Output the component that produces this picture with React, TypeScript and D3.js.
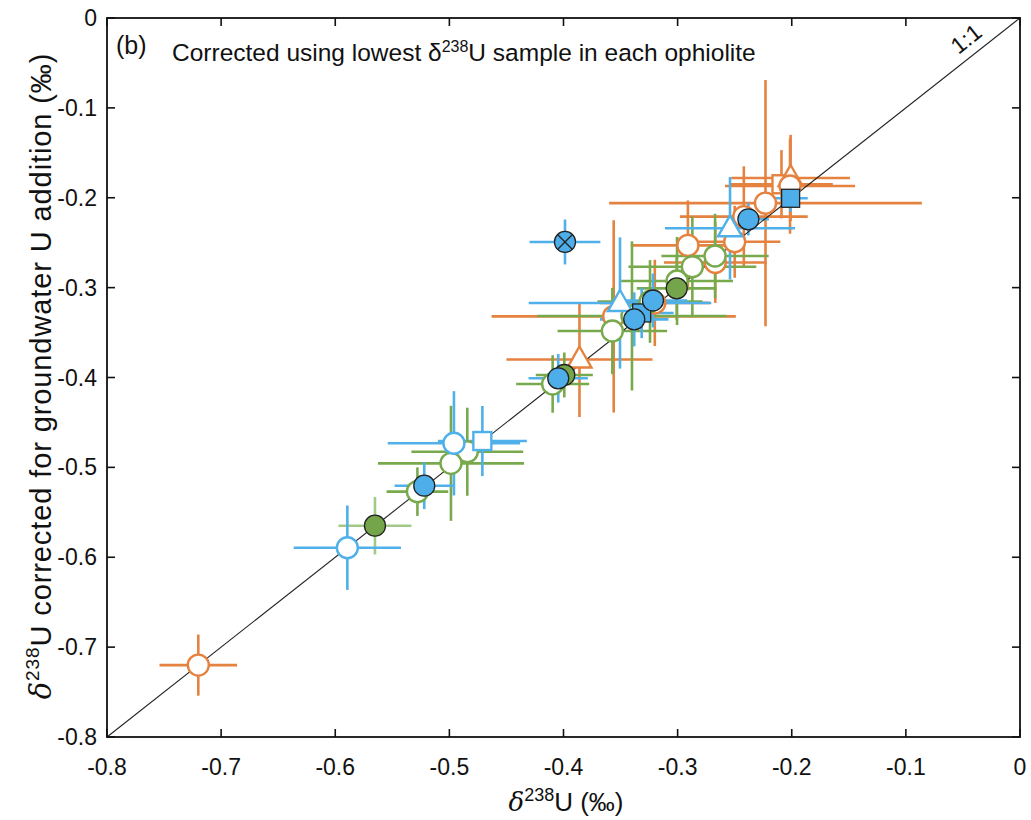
import React from "react";
import * as d3 from "d3";

// [x, y, xerr, yerr, shape]  shape: c=circle, t=triangle, s=square
const orangeOpen: [number, number, number, number, string][] = [
  [-0.356, -0.332, 0.107, 0.107, "c"],
  [-0.32, -0.317, 0.048, 0.048, "c"],
  [-0.267, -0.272, 0.045, 0.045, "c"],
  [-0.242, -0.221, 0.056, 0.056, "c"],
  [-0.291, -0.253, 0.05, 0.05, "c"],
  [-0.25, -0.249, 0.04, 0.04, "c"],
  [-0.223, -0.206, 0.137, 0.137, "c"],
  [-0.209, -0.185, 0.045, 0.038, "s"],
  [-0.201, -0.178, 0.052, 0.048, "t"],
  [-0.2015, -0.187, 0.057, 0.053, "c"],
  [-0.386, -0.38, 0.064, 0.064, "t"],
  [-0.72, -0.72, 0.034, 0.034, "c"],
];

const greenOpen: [number, number, number, number, string][] = [
  [-0.34, -0.3315, 0.083, 0.083, "c"],
  [-0.3242, -0.3154, 0.046, 0.046, "c"],
  [-0.3005, -0.2926, 0.049, 0.049, "c"],
  [-0.2871, -0.2767, 0.056, 0.056, "c"],
  [-0.2672, -0.2648, 0.047, 0.047, "c"],
  [-0.3572, -0.3483, 0.048, 0.048, "c"],
  [-0.4095, -0.4072, 0.032, 0.032, "c"],
  [-0.4843, -0.4826, 0.049, 0.049, "c"],
  [-0.4986, -0.4955, 0.064, 0.064, "c"],
  [-0.528, -0.527, 0.027, 0.027, "c"],
];

const greenFilled: [number, number, number, number, string][] = [
  [-0.5652, -0.5649, 0.032, 0.032, "c"],
  [-0.3993, -0.3972, 0.025, 0.025, "c"],
  [-0.3008, -0.3008, 0.035, 0.035, "c"],
];

const blueOpen: [number, number, number, number, string][] = [
  [-0.5894, -0.5894, 0.047, 0.047, "c"],
  [-0.496, -0.4732, 0.058, 0.058, "c"],
  [-0.4711, -0.4707, 0.039, 0.039, "s"],
  [-0.3505, -0.3171, 0.08, 0.073, "t"],
  [-0.2541, -0.234, 0.057, 0.057, "t"],
];

const blueFilled: [number, number, number, number, string][] = [
  [-0.522, -0.5204, 0.026, 0.026, "c"],
  [-0.4046, -0.4009, 0.026, 0.027, "c"],
  [-0.3315, -0.3282, 0.028, 0.028, "s"],
  [-0.3216, -0.3143, 0.03, 0.03, "c"],
  [-0.338, -0.3353, 0.03, 0.03, "c"],
  [-0.238, -0.224, 0.018, 0.018, "c"],
  [-0.201, -0.2006, 0.015, 0.015, "s"],
];

// special sample marked with a cross
const blueCross: [number, number, number, number, string][] = [
  [-0.3987, -0.2492, 0.031, 0.025, "c"],
];

const ticks = [-0.8, -0.7, -0.6, -0.5, -0.4, -0.3, -0.2, -0.1, 0];
const tickLabels = ["-0.8", "-0.7", "-0.6", "-0.5", "-0.4", "-0.3", "-0.2", "-0.1", "0"];

const ORANGE = "#e5823f";
const BLUE = "#4fb0ea";
const GREEN = "#78aa4d";
const GREEN_LIGHT = "#a3c989";
const BLUE_FILL = "#4eaeea";
const GREEN_FILL = "#74a54b";
const FONT = "'Liberation Sans', Arial, Helvetica, sans-serif";

const x = d3.scaleLinear().domain([-0.8, 0]).range([107, 1020]);
const y = d3.scaleLinear().domain([-0.8, 0]).range([737, 18]);

function ErrBars({ data, color, key0 }: any) {
  return (
    <g stroke={color} strokeWidth={2.6} fill="none">
      {data.map((d: any, i: number) => (
        <g key={key0 + i}>
          <line x1={x(d[0] - d[2])} x2={x(d[0] + d[2])} y1={y(d[1])} y2={y(d[1])} />
          <line x1={x(d[0])} x2={x(d[0])} y1={y(d[1] - d[3])} y2={y(d[1] + d[3])} />
        </g>
      ))}
    </g>
  );
}

function Marker({ d, fill, stroke, sw }: any) {
  const cx = x(d[0]);
  const cy = y(d[1]);
  if (d[4] === "t") {
    const p = `M${cx},${cy - 13} L${cx + 12},${cy + 8} L${cx - 12},${cy + 8} Z`;
    return <path d={p} fill={fill} stroke={stroke} strokeWidth={sw} />;
  }
  if (d[4] === "s") {
    return <rect x={cx - 9} y={cy - 9} width={18} height={18} fill={fill} stroke={stroke} strokeWidth={sw} />;
  }
  return <circle cx={cx} cy={cy} r={10.5} fill={fill} stroke={stroke} strokeWidth={sw} />;
}

export default function App() {
  const lineAngle = (Math.atan2(y(-0.8) - y(0), x(0) - x(-0.8)) * 180) / Math.PI;
  return (
    <svg width={1031} height={820} style={{ position: "absolute", left: 0, top: 0, background: "#fff" }} fontFamily={FONT}>
      <rect x={0} y={0} width={1031} height={820} fill="#fff" />
      {/* error bars */}
      <ErrBars data={orangeOpen} color={ORANGE} key0="o" />
      <ErrBars data={greenOpen} color={GREEN} key0="g" />
      <ErrBars data={greenFilled.slice(1)} color={GREEN} key0="gf" />
      <ErrBars data={greenFilled.slice(0, 1)} color={GREEN_LIGHT} key0="gl" />
      <ErrBars data={blueOpen} color={BLUE} key0="b" />
      <ErrBars data={blueFilled} color={BLUE} key0="bf" />
      <ErrBars data={blueCross} color={BLUE} key0="bx" />
      {/* 1:1 line */}
      <line x1={x(-0.8)} y1={y(-0.8)} x2={x(0)} y2={y(0)} stroke="#222" strokeWidth={1.1} />
      {/* markers */}
      {orangeOpen.map((d, i) => (
        <Marker key={"om" + i} d={d} fill="#fff" stroke={ORANGE} sw={2.4} />
      ))}
      {greenOpen.map((d, i) => (
        <Marker key={"gm" + i} d={d} fill="#fff" stroke={GREEN} sw={2.4} />
      ))}
      {blueOpen.map((d, i) => (
        <Marker key={"bm" + i} d={d} fill="#fff" stroke={BLUE} sw={2.4} />
      ))}
      {greenFilled.map((d, i) => (
        <Marker key={"gfm" + i} d={d} fill={GREEN_FILL} stroke="#222" sw={1.3} />
      ))}
      {blueFilled.map((d, i) => (
        <Marker key={"bfm" + i} d={d} fill={BLUE_FILL} stroke="#222" sw={1.3} />
      ))}
      {blueCross.map((d, i) => {
        const cx = x(d[0]);
        const cy = y(d[1]);
        const r = 7.2;
        return (
          <g key={"bxm" + i}>
            <Marker d={d} fill={BLUE_FILL} stroke="#222" sw={1.3} />
            <line x1={cx - r} y1={cy - r} x2={cx + r} y2={cy + r} stroke="#222" strokeWidth={1.3} />
            <line x1={cx - r} y1={cy + r} x2={cx + r} y2={cy - r} stroke="#222" strokeWidth={1.3} />
          </g>
        );
      })}
      {/* axes box */}
      <rect x={x(-0.8)} y={y(0)} width={x(0) - x(-0.8)} height={y(-0.8) - y(0)} fill="none" stroke="#111" strokeWidth={1.8} />
      {ticks.map((t, i) => (
        <g key={"t" + i} stroke="#111" strokeWidth={1.6}>
          <line x1={x(t)} x2={x(t)} y1={y(-0.8)} y2={y(-0.8) - 8} />
          <line x1={x(t)} x2={x(t)} y1={y(0)} y2={y(0) + 8} />
          <line x1={x(-0.8)} x2={x(-0.8) + 8} y1={y(t)} y2={y(t)} />
          <line x1={x(0)} x2={x(0) - 8} y1={y(t)} y2={y(t)} />
        </g>
      ))}
      {ticks.map((t, i) => (
        <text key={"xl" + i} x={x(t)} y={775} textAnchor="middle" fontSize={23} fill="#111">
          {tickLabels[i]}
        </text>
      ))}
      {ticks.map((t, i) => (
        <text key={"yl" + i} x={97} y={y(t) + 8} textAnchor="end" fontSize={23} fill="#111">
          {tickLabels[i]}
        </text>
      ))}
      {/* x axis label */}
      <text x={566} y={811} textAnchor="middle" fontSize={26} fill="#111">
        <tspan fontStyle="italic" fontFamily="'DejaVu Serif', serif">δ</tspan>
        <tspan dy={-10} fontSize={18}>238</tspan>
        <tspan dy={10}>U (‰)</tspan>
      </text>
      {/* y axis label */}
      <text transform="translate(51,376) rotate(-90)" textAnchor="middle" fontSize={29} letterSpacing={0.9} fill="#111">
        <tspan fontStyle="italic" fontFamily="'DejaVu Serif', serif">δ</tspan>
        <tspan dy={-12} fontSize={19}>238</tspan>
        <tspan dy={12}>U corrected for groundwater U addition (‰)</tspan>
      </text>
      {/* panel label and title */}
      <text x={116} y={54} fontSize={25} fill="#111">(b)</text>
      <text x={172} y={61} fontSize={24.5} fill="#111">
        <tspan>Corrected using lowest δ</tspan>
        <tspan dy={-9} fontSize={16}>238</tspan>
        <tspan dy={9}>U sample in each ophiolite</tspan>
      </text>
      <text transform={`translate(971,45) rotate(${-lineAngle})`} textAnchor="middle" fontSize={23} fill="#111">
        1:1
      </text>
    </svg>
  );
}
